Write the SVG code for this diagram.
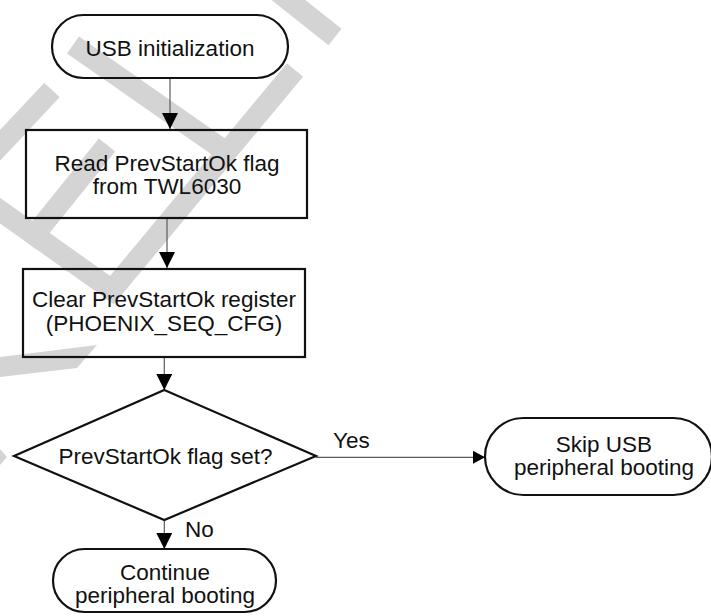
<svg xmlns="http://www.w3.org/2000/svg" width="711" height="616" viewBox="0 0 711 616">
<style>
.wm{fill:none;stroke:#d4d4d4;stroke-width:21;stroke-linecap:butt;stroke-linejoin:miter}
.wmf{fill:#d4d4d4;stroke:none}
.node{fill:none;stroke:#111;stroke-width:2.2}
.conn{fill:none;stroke:#5a5a5a;stroke-width:1.2}
.t{font-family:"Liberation Sans",Arial,sans-serif;font-size:22.5px;fill:#111;text-anchor:middle}
.lbl{font-family:"Liberation Sans",Arial,sans-serif;font-size:22.5px;fill:#111;text-anchor:start}
</style>
<defs>
<marker id="arr" viewBox="0 0 16 16" refX="16" refY="8" markerWidth="16" markerHeight="16" markerUnits="userSpaceOnUse" orient="auto">
<path d="M0,0 L16,8 L0,16 z" fill="#000"/>
</marker>
<marker id="arrs" viewBox="0 0 12 13" refX="12" refY="6.5" markerWidth="12" markerHeight="13" markerUnits="userSpaceOnUse" orient="auto">
<path d="M0,0 L12,6.5 L0,13 z" fill="#000"/>
</marker>
</defs>
<rect width="711" height="616" fill="#fff"/>
<g id="watermark">
<path class="wm" d="M272,-13 L335,37"/>
<path class="wm" d="M-8,205 L112,290 L295,70"/>
<path class="wm" d="M73,45 L232,156"/>
<path class="wm" d="M52,90 L-8,154"/>
<path class="wm" d="M107,145 L28,243"/>
<polygon class="wmf" points="0,357 97,345 77,368 0,377"/>
<polygon class="wmf" points="0,449 7,457 0,465"/>
</g>
<g id="connectors">
<line class="conn" x1="170" y1="78" x2="170" y2="129" marker-end="url(#arr)"/>
<line class="conn" x1="167" y1="218" x2="167" y2="268" marker-end="url(#arr)"/>
<line class="conn" x1="164.3" y1="357" x2="164.3" y2="390" marker-end="url(#arr)"/>
<line class="conn" x1="164.3" y1="520" x2="164.3" y2="549" marker-end="url(#arr)"/>
<line class="conn" x1="316" y1="457.3" x2="485" y2="457.3" marker-end="url(#arrs)"/>
<text class="lbl" x="333" y="448">Yes</text>
<text class="lbl" x="185" y="537">No</text>
</g>
<g id="usb-init">
<rect class="node" x="52" y="15" width="236" height="63" rx="31.5" ry="31.5"/>
<text class="t" x="170" y="56">USB initialization</text>
</g>
<g id="read-flag">
<rect class="node" x="26" y="130" width="281" height="88"/>
<text class="t" x="167" y="170.5">Read PrevStartOk flag</text>
<text class="t" x="167" y="194">from TWL6030</text>
</g>
<g id="clear-reg">
<rect class="node" x="23" y="269" width="282" height="88"/>
<text class="t" x="164" y="307">Clear PrevStartOk register</text>
<text class="t" x="164" y="330.5">(PHOENIX_SEQ_CFG)</text>
</g>
<g id="decision">
<polygon class="node" points="164.3,390 316,456 164.3,520 14,456"/>
<text class="t" x="165.5" y="463.5">PrevStartOk flag set?</text>
</g>
<g id="skip-usb">
<rect class="node" x="485" y="418" width="227" height="77" rx="38.5" ry="38.5"/>
<text class="t" x="604" y="451.5">Skip USB</text>
<text class="t" x="604" y="474.5">peripheral booting</text>
</g>
<g id="continue">
<rect class="node" x="53" y="549" width="223" height="63" rx="31.5" ry="31.5"/>
<text class="t" x="165" y="579.5">Continue</text>
<text class="t" x="165" y="603">peripheral booting</text>
</g>
</svg>
